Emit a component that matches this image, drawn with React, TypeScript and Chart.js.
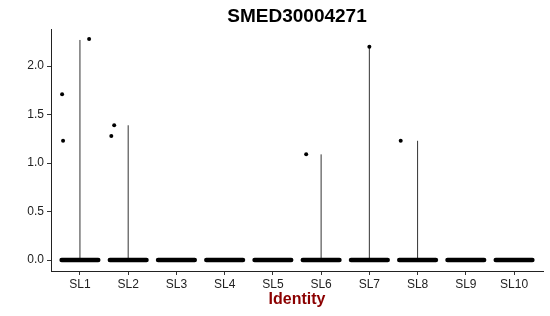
import React, { useEffect, useRef } from "react";
import { Chart, registerables } from "chart.js";

Chart.register(...registerables);

const categories = ["SL1", "SL2", "SL3", "SL4", "SL5", "SL6", "SL7", "SL8", "SL9", "SL10"];
// max expression per identity (violin height)
const violinMax = [2.27, 1.39, 0, 0, 0, 1.09, 2.2, 1.23, 0, 0];
// non-zero cells: identity index, jitter offset, value
const outlierCat = [0, 0, 0, 1, 1, 5, 6, 7];
const outlierJitter = [-0.37, -0.35, 0.19, -0.35, -0.29, -0.31, 0.0, -0.35];
const outlierValue = [1.71, 1.23, 2.28, 1.28, 1.39, 1.09, 2.2, 1.23];
// zero-valued cells band extent (jitter half-width)
const bandHalf = [0.38, 0.38, 0.38, 0.38, 0.38, 0.38, 0.38, 0.38, 0.38, 0.38];
const yTicks = [0, 0.5, 1.0, 1.5, 2.0];

const FONT = "'Liberation Sans', Arial, Helvetica, sans-serif";

export default function App() {
  const ref = useRef<HTMLCanvasElement>(null);
  useEffect(() => {
    document.body.style.margin = "0";
    const ctx = ref.current!.getContext("2d")!;
    const datasets: any[] = [];
    categories.forEach((c, i) => {
      const x = i + 1;
      datasets.push({
        type: "line",
        data: [
          { x: x - bandHalf[i], y: 0 },
          { x: x + bandHalf[i], y: 0 },
        ],
        borderColor: "#000",
        borderWidth: 4.5,
        borderCapStyle: "round",
        pointRadius: 0,
        order: 2,
      });
      if (violinMax[i] > 0) {
        datasets.push({
          type: "line",
          data: [
            { x: x, y: 0 },
            { x: x, y: violinMax[i] },
          ],
          borderColor: "#333",
          borderWidth: 1,
          pointRadius: 0,
          order: 3,
        });
      }
    });
    datasets.push({
      type: "scatter",
      data: outlierValue.map((v, k) => ({ x: outlierCat[k] + 1 + outlierJitter[k], y: v })),
      backgroundColor: "#000",
      borderWidth: 0,
      pointRadius: 2,
      order: 1,
    });
    const chart = new Chart(ctx, {
      type: "scatter",
      data: { datasets },
      options: {
        animation: false,
        responsive: false,
        layout: { padding: { left: 0, right: 7, top: 0, bottom: 0 } },
        plugins: {
          legend: { display: false },
          tooltip: { enabled: false },
          title: {
            display: true,
            text: "SMED30004271",
            fullSize: false,
            color: "#000",
            font: { family: FONT, size: 19, weight: "bold" },
            padding: { top: 5, bottom: 1.2 },
          },
        },
        scales: {
          x: {
            type: "linear",
            min: 0.4,
            max: 10.6,
            afterFit: (s: any) => {
              s.height = 45;
            },
            afterBuildTicks: (s: any) => {
              s.ticks = categories.map((_, i) => ({ value: i + 1 }));
            },
            ticks: {
              stepSize: 1,
              includeBounds: false,
              autoSkip: false,
              maxRotation: 0,
              padding: 2,
              color: "#222",
              font: { family: FONT, size: 12 },
              callback: (v: any) => categories[Math.round(Number(v)) - 1] ?? "",
            },
            grid: { drawOnChartArea: false, tickLength: 4, color: "#333", tickColor: "#333" },
            border: { display: true, color: "#222", width: 1 },
            title: {
              display: true,
              text: "Identity",
              color: "#8B0000",
              font: { family: FONT, size: 16, weight: "bold" },
              padding: { top: 0, bottom: 7 },
            },
          },
          y: {
            type: "linear",
            min: -0.113,
            max: 2.383,
            afterFit: (s: any) => {
              s.width = 51;
            },
            afterBuildTicks: (s: any) => {
              s.ticks = yTicks.map((v) => ({ value: v }));
            },
            ticks: {
              stepSize: 0.5,
              includeBounds: false,
              padding: 3,
              color: "#222",
              font: { family: FONT, size: 12 },
              callback: (v: any) => Number(v).toFixed(1),
            },
            grid: { drawOnChartArea: false, tickLength: 4, color: "#333", tickColor: "#333" },
            border: { display: true, color: "#222", width: 1 },
          },
        },
      },
    });
    return () => chart.destroy();
  }, []);
  return (
    <div style={{ position: "absolute", left: 0, top: 0, width: 550, height: 316, background: "#fff" }}>
      <canvas ref={ref} width={550} height={316} />
    </div>
  );
}
